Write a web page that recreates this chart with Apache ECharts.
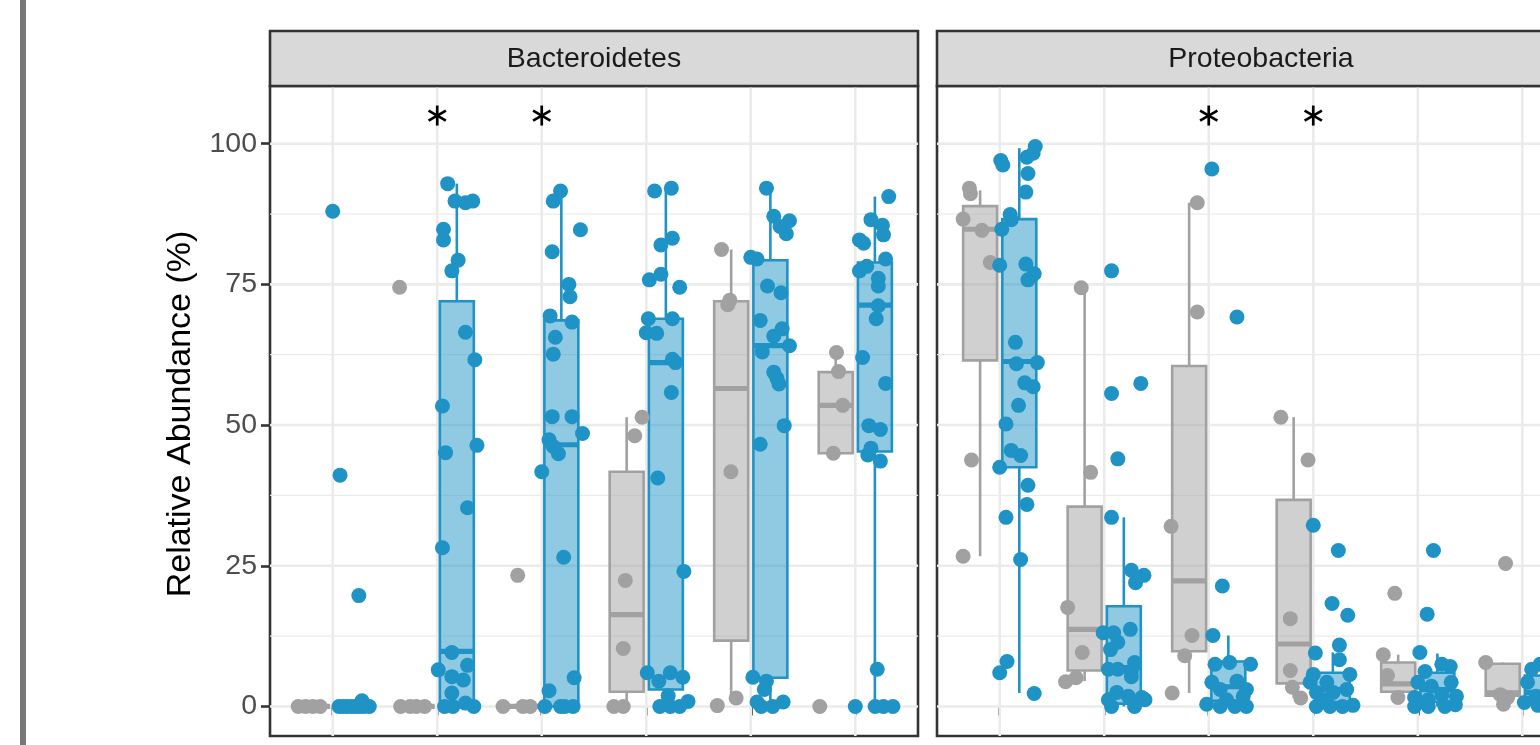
<!DOCTYPE html>
<html><head><meta charset="utf-8">
<script src="https://cdn.jsdelivr.net/npm/echarts@6/dist/echarts.min.js"></script>
<style>html,body{margin:0;padding:0;background:#fff}#c{width:1540px;height:745px}</style>
</head><body><div id="c"></div><script>
const panels = ['Bacteroidetes', 'Proteobacteria'];
const categories = [1, 2, 3, 4, 5, 6];
const yTicks = [0, 25, 50, 75, 100];
const yMinor = [12.5, 37.5, 62.5, 87.5];
const sigBact = [2, 3];
const sigProt = [3, 4];
const sigLevel = 105;

// box stats: [category, lowerWhisker, q1, median, q3, upperWhisker]
const bactGrayBox = [[1,0,0,0,0,0],[2,0,0,0,0,0],[3,0,0,0,0,0],[4,0,2.6,16.3,41.7,51.4],[5,1.5,11.7,56.5,72.0,81.2],[6,45.0,45.0,53.5,59.4,62.9]];
const bactBlueBox = [[1,0,0,0,0,0],[2,0,0,9.8,72.0,92.9],[3,0,0,46.5,68.6,91.6],[4,0,3.0,61.1,68.9,92.3],[5,0,5.1,64.1,79.3,92.1],[6,0,45.3,71.3,78.9,90.6]];
const protGrayBox = [[1,26.7,61.5,84.8,88.9,91.7],[2,4.5,6.4,13.7,35.5,74.4],[3,2.4,9.8,22.3,60.5,89.5],[4,1.5,4.1,11.1,36.7,51.4],[5,1.6,2.6,4.0,7.8,9.2],[6,0.4,1.9,2.4,7.6,7.8]];
const protBlueBox = [[1,2.4,42.5,61.3,86.6,99.2],[2,0,0.5,6.9,17.8,33.6],[3,0,1.0,3.5,8.0,12.6],[4,0,0.8,3.0,6.0,9.6],[5,0,0.8,3.0,6.0,9.4],[6,0,0.5,2.5,5.5,8.5]];

// points: [category, jitter offset, value]
const bactGrayPts = [
[1,-0.33,0],[1,-0.26,0],[1,-0.19,0],[1,-0.12,0],
[2,-0.36,74.5],[2,-0.35,0],[2,-0.26,0],[2,-0.20,0],[2,-0.12,0],
[3,-0.23,23.3],[3,-0.37,0],[3,-0.18,0],[3,-0.11,0],
[4,-0.04,51.4],[4,-0.11,48.1],[4,-0.20,22.4],[4,-0.22,10.3],[4,-0.31,0],[4,-0.22,0],
[5,-0.28,81.2],[5,-0.20,72.2],[5,-0.22,71.4],[5,-0.19,41.7],[5,-0.14,1.5],[5,-0.32,0.15],
[6,-0.18,62.9],[6,-0.16,59.5],[6,-0.12,53.5],[6,-0.21,45.0],[6,-0.34,0]];
const bactBluePts = [
[1,0.00,88.0],[1,0.07,41.1],[1,0.25,19.7],[1,0.06,0],[1,0.10,0],[1,0.14,0],[1,0.18,0],[1,0.22,0],[1,0.26,0],[1,0.30,0],[1,0.35,0],[1,0.28,1.0],
[2,0.10,92.9],[2,0.17,89.8],[2,0.27,89.5],[2,0.34,89.8],[2,0.06,84.8],[2,0.06,82.9],[2,0.20,79.3],[2,0.14,77.4],[2,0.27,66.5],[2,0.36,61.6],[2,0.05,53.4],[2,0.08,45.1],[2,0.38,46.4],[2,0.29,35.3],[2,0.05,28.2],[2,0.14,9.6],[2,0.01,6.5],[2,0.29,7.3],[2,0.14,5.3],[2,0.25,4.7],[2,0.14,2.4],[2,0.07,0],[2,0.15,0],[2,0.27,0.6],[2,0.35,0],
[3,0.18,91.6],[3,0.11,89.8],[3,0.37,84.7],[3,0.10,80.8],[3,0.26,75.0],[3,0.27,72.8],[3,0.08,69.4],[3,0.29,68.3],[3,0.13,65.6],[3,0.11,62.6],[3,0.10,51.5],[3,0.29,51.5],[3,0.39,48.5],[3,0.07,47.4],[3,0.11,46.2],[3,0.16,44.9],[3,0.00,41.7],[3,0.21,26.5],[3,0.31,5.1],[3,0.07,2.8],[3,0.03,0],[3,0.18,0],[3,0.22,0],[3,0.30,0],
[4,0.08,91.6],[4,0.24,92.1],[4,0.25,83.2],[4,0.14,82.0],[4,0.32,74.5],[4,0.03,75.8],[4,0.14,76.8],[4,0.02,68.9],[4,0.25,68.9],[4,0.10,66.3],[4,0.00,66.4],[4,0.25,61.7],[4,0.28,61.1],[4,0.24,55.8],[4,0.11,40.6],[4,0.36,24.0],[4,0.01,6.0],[4,0.23,6.0],[4,0.35,5.2],[4,0.12,4.5],[4,0.21,1.9],[4,0.13,0],[4,0.23,0],[4,0.32,0],[4,0.40,0.9],
[5,0.15,92.1],[5,0.22,87.1],[5,0.37,86.3],[5,0.28,85.3],[5,0.34,84.0],[5,0.00,79.8],[5,0.06,79.5],[5,0.16,74.7],[5,0.29,73.5],[5,0.09,68.6],[5,0.30,67.1],[5,0.22,65.8],[5,0.37,64.1],[5,0.11,63.0],[5,0.22,59.4],[5,0.25,58.3],[5,0.27,57.3],[5,0.32,49.9],[5,0.09,46.6],[5,0.02,5.2],[5,0.15,4.5],[5,0.13,3.0],[5,0.06,0.8],[5,0.10,0],[5,0.21,0],[5,0.31,0.8],
[6,0.32,90.6],[6,0.15,86.5],[6,0.26,85.5],[6,0.27,83.8],[6,0.04,82.9],[6,0.08,82.3],[6,0.29,79.5],[6,0.04,77.4],[6,0.22,76.1],[6,0.22,74.7],[6,0.11,78.2],[6,0.22,71.2],[6,0.20,68.9],[6,0.07,62.0],[6,0.29,57.4],[6,0.13,49.9],[6,0.24,49.2],[6,0.15,45.9],[6,0.12,44.7],[6,0.24,43.6],[6,0.21,6.6],[6,0.00,0],[6,0.19,0],[6,0.27,0],[6,0.36,0]];
const protGrayPts = [
[1,-0.29,92.1],[1,-0.28,91.1],[1,-0.35,86.6],[1,-0.17,84.6],[1,-0.09,78.9],[1,-0.27,43.8],[1,-0.35,26.7],
[2,-0.22,74.4],[2,-0.13,41.6],[2,-0.35,17.6],[2,-0.21,9.6],[2,-0.37,4.4],[2,-0.27,5.1],
[3,-0.11,89.5],[3,-0.11,70.1],[3,-0.36,32.0],[3,-0.16,12.6],[3,-0.23,9.0],[3,-0.35,2.4],
[4,-0.31,51.4],[4,-0.05,43.8],[4,-0.22,15.6],[4,-0.22,6.4],[4,-0.20,3.4],[4,-0.12,1.5],
[5,-0.22,20.1],[5,-0.33,9.2],[5,-0.29,5.5],[5,-0.19,1.6],
[6,-0.16,25.4],[6,-0.35,7.8],[6,-0.21,2.1],[6,-0.14,1.6],[6,-0.18,0.4]];
const protBluePts = [
[1,0.34,99.5],[1,0.32,98.3],[1,0.26,97.6],[1,0.01,97.0],[1,0.03,96.2],[1,0.27,94.7],[1,0.25,91.4],[1,0.10,87.4],[1,0.11,86.5],[1,0.02,84.8],[1,0.00,78.4],[1,0.25,78.6],[1,0.33,76.9],[1,0.27,75.8],[1,0.15,64.7],[1,0.16,60.9],[1,0.36,61.1],[1,0.24,57.5],[1,0.32,56.8],[1,0.18,53.5],[1,0.06,50.2],[1,0.11,45.5],[1,0.20,44.6],[1,0.00,42.5],[1,0.27,39.3],[1,0.26,35.9],[1,0.06,33.6],[1,0.20,26.1],[1,0.07,8.0],[1,0.00,6.0],[1,0.33,2.3],
[2,0.07,77.4],[2,0.07,55.6],[2,0.35,57.4],[2,0.13,44.0],[2,0.07,33.6],[2,0.26,24.2],[2,0.38,23.3],[2,0.30,22.0],[2,0.25,13.7],[2,-0.01,13.1],[2,0.09,13.1],[2,0.13,11.4],[2,0.06,10.1],[2,0.29,7.8],[2,0.04,6.6],[2,0.13,6.6],[2,0.26,6.3],[2,0.26,5.3],[2,0.04,1.2],[2,0.12,2.5],[2,0.23,1.8],[2,0.36,1.6],[2,0.07,0],[2,0.29,0],[2,0.39,1.2],
[3,0.03,95.5],[3,0.27,69.2],[3,0.13,21.4],[3,0.04,12.6],[3,0.06,7.5],[3,0.20,7.8],[3,0.40,7.5],[3,0.03,4.3],[3,0.11,3.0],[3,0.27,4.5],[3,0.36,3.0],[3,-0.02,0.4],[3,0.11,0],[3,0.25,0],[3,0.36,0],[3,0.33,1.8],[3,0.17,1.2],
[4,0.00,32.2],[4,0.24,27.7],[4,0.18,18.3],[4,0.33,16.2],[4,0.25,10.9],[4,0.02,9.5],[4,0.25,8.3],[4,0.00,5.7],[4,-0.03,4.3],[4,0.13,4.3],[4,0.35,5.7],[4,0.03,2.5],[4,0.19,2.5],[4,0.32,3.0],[4,0.03,0],[4,0.16,0],[4,0.28,0],[4,0.38,0.2],[4,0.09,1.2],
[5,0.15,27.7],[5,0.09,16.4],[5,0.02,9.6],[5,0.07,6.2],[5,0.23,7.5],[5,0.31,7.1],[5,0.00,4.3],[5,0.13,3.6],[5,0.32,4.3],[5,-0.03,1.6],[5,0.10,1.2],[5,0.23,2.1],[5,0.37,1.8],[5,-0.03,0],[5,0.10,0],[5,0.26,0],[5,0.36,0.3],
[6,0.17,7.5],[6,0.05,4.3],[6,0.02,0.7],[6,0.13,1.8],[6,0.09,6.6],[6,0.15,0.2],[6,0.25,3.0],[6,0.30,0.5],[6,0.35,5.0]];

const FONT = "'Liberation Sans', Arial, Helvetica, sans-serif";
const GRAY = '#a1a1a1', GRAY_FILL = 'rgba(161,161,161,0.5)';
const BLUE = '#1f93c6', BLUE_FILL = 'rgba(31,147,198,0.5)';
const DODGE = 0.1875, BOXW = 0.325, LW = 2.6;

const chart = echarts.init(document.getElementById('c'), null, {renderer: 'canvas'});

function gridSeries(idx) {
  const data = yTicks.map(v => [0, v]).concat(yMinor.map(v => [1, v])).concat(categories.map(c => [2, c]));
  return {
    type: 'custom', xAxisIndex: idx, yAxisIndex: idx, z: 1, silent: true, data: data,
    encode: {x: -1, y: -1},
    renderItem: function (params, api) {
      const cs = params.coordSys;
      const kind = api.value(0), v = api.value(1);
      if (kind === 2) {
        const px = api.coord([v, 0])[0];
        return {type: 'line', shape: {x1: px, y1: cs.y, x2: px, y2: cs.y + cs.height}, style: {stroke: '#ebebeb', lineWidth: LW}};
      }
      const py = api.coord([1, v])[1];
      return {type: 'line', shape: {x1: cs.x, y1: py, x2: cs.x + cs.width, y2: py},
        style: {stroke: '#ebebeb', lineWidth: kind === 0 ? LW : LW / 2}};
    }
  };
}

function boxSeries(idx, boxes, off, stroke, fill) {
  return {
    type: 'custom', xAxisIndex: idx, yAxisIndex: idx, z: 2, silent: true,
    data: boxes.map(b => [b[0] + off, b[1], b[2], b[3], b[4], b[5]]),
    encode: {x: 0, y: [1, 2, 3, 4, 5]},
    renderItem: function (params, api) {
      const x = api.value(0);
      const c = api.coord([x, api.value(3)]);
      const lo = api.coord([x, api.value(1)])[1];
      const q1 = api.coord([x, api.value(2)])[1];
      const q3 = api.coord([x, api.value(4)])[1];
      const hi = api.coord([x, api.value(5)])[1];
      const l = api.coord([x - BOXW / 2, 0])[0];
      const r = api.coord([x + BOXW / 2, 0])[0];
      return {type: 'group', children: [
        {type: 'line', shape: {x1: c[0], y1: hi, x2: c[0], y2: q3}, style: {stroke: stroke, lineWidth: LW}},
        {type: 'line', shape: {x1: c[0], y1: q1, x2: c[0], y2: lo}, style: {stroke: stroke, lineWidth: LW}},
        {type: 'rect', shape: {x: l, y: q3, width: r - l, height: q1 - q3}, style: {fill: fill, stroke: stroke, lineWidth: LW}},
        {type: 'line', shape: {x1: l, y1: c[1], x2: r, y2: c[1]}, style: {stroke: stroke, lineWidth: LW * 2}}
      ]};
    }
  };
}

function ptSeries(idx, pts, color) {
  return {
    type: 'scatter', xAxisIndex: idx, yAxisIndex: idx, z: 3, silent: true,
    symbol: 'circle', symbolSize: 15,
    itemStyle: {color: color, opacity: 1},
    data: pts.map(p => [p[0] + p[1], p[2]])
  };
}

function sigSeries(idx, cats) {
  return {
    type: 'custom', xAxisIndex: idx, yAxisIndex: idx, z: 4, silent: true,
    data: cats.map(c => [c, sigLevel]),
    encode: {x: 0, y: 1},
    renderItem: function (params, api) {
      const p = api.coord([api.value(0), api.value(1)]);
      const R = 10, kids = [];
      [90, 30, 150].forEach(function (deg) {
        const a = deg * Math.PI / 180, dx = R * Math.cos(a), dy = R * Math.sin(a);
        kids.push({type: 'line', shape: {x1: p[0] - dx, y1: p[1] - dy, x2: p[0] + dx, y2: p[1] + dy}, style: {stroke: '#000', lineWidth: 2.7}});
      });
      return {type: 'group', children: kids};
    }
  };
}

const lefts = [270, 937];
const option = {
  backgroundColor: '#ffffff',
  animation: false,
  grid: lefts.map(l => ({left: l, top: 86, width: 648, height: 650, outerBoundsMode: 'none', containLabel: false, show: true, backgroundColor: '#fff', borderColor: '#333333', borderWidth: LW})),
  xAxis: lefts.map((l, i) => ({
    gridIndex: i, type: 'value', min: 0.4, max: 6.6,
    axisLine: {show: false}, splitLine: {show: false},
    axisLabel: {show: false},
    axisTick: {show: true, customValues: categories, length: 9, lineStyle: {color: '#333333', width: LW}}
  })),
  yAxis: lefts.map((l, i) => ({
    gridIndex: i, type: 'value', min: -5.25, max: 110.25,
    axisLine: {show: false}, splitLine: {show: false},
    axisTick: {show: i === 0, customValues: yTicks, length: 9, lineStyle: {color: '#333333', width: LW}},
    axisLabel: {show: i === 0, customValues: yTicks, color: '#4d4d4d', fontSize: 28.5, fontFamily: FONT, margin: 13}
  })),
  series: [
    gridSeries(0), gridSeries(1),
    boxSeries(0, bactGrayBox, -DODGE, GRAY, GRAY_FILL),
    boxSeries(0, bactBlueBox, DODGE, BLUE, BLUE_FILL),
    boxSeries(1, protGrayBox, -DODGE, GRAY, GRAY_FILL),
    boxSeries(1, protBlueBox, DODGE, BLUE, BLUE_FILL),
    ptSeries(0, bactGrayPts, GRAY), ptSeries(0, bactBluePts, BLUE),
    ptSeries(1, protGrayPts, GRAY), ptSeries(1, protBluePts, BLUE),
    sigSeries(0, sigBact), sigSeries(1, sigProt)
  ],
  graphic: [
    {type: 'rect', shape: {x: 20, y: 0, width: 6, height: 745}, style: {fill: '#7a7777'}, z: 10},
    {type: 'rect', shape: {x: 270, y: 31, width: 648, height: 55}, style: {fill: '#d9d9d9', stroke: '#333333', lineWidth: LW}, z: 10},
    {type: 'rect', shape: {x: 937, y: 31, width: 648, height: 55}, style: {fill: '#d9d9d9', stroke: '#333333', lineWidth: LW}, z: 10},
    {type: 'text', x: 594, y: 59.5, z: 11, style: {text: panels[0], fontSize: 28.5, fontFamily: FONT, fill: '#1a1a1a', textAlign: 'center', textVerticalAlign: 'middle', align: 'center', verticalAlign: 'middle'}},
    {type: 'text', x: 1261, y: 59.5, z: 11, style: {text: panels[1], fontSize: 28.5, fontFamily: FONT, fill: '#1a1a1a', textAlign: 'center', textVerticalAlign: 'middle', align: 'center', verticalAlign: 'middle'}},
    {type: 'text', x: 181, y: 414, rotation: Math.PI / 2, z: 11, style: {text: 'Relative Abundance (%)', fontSize: 34, fontFamily: FONT, fill: '#000', textAlign: 'center', textVerticalAlign: 'middle', align: 'center', verticalAlign: 'middle'}}
  ]
};
chart.setOption(option);
</script></body></html>
